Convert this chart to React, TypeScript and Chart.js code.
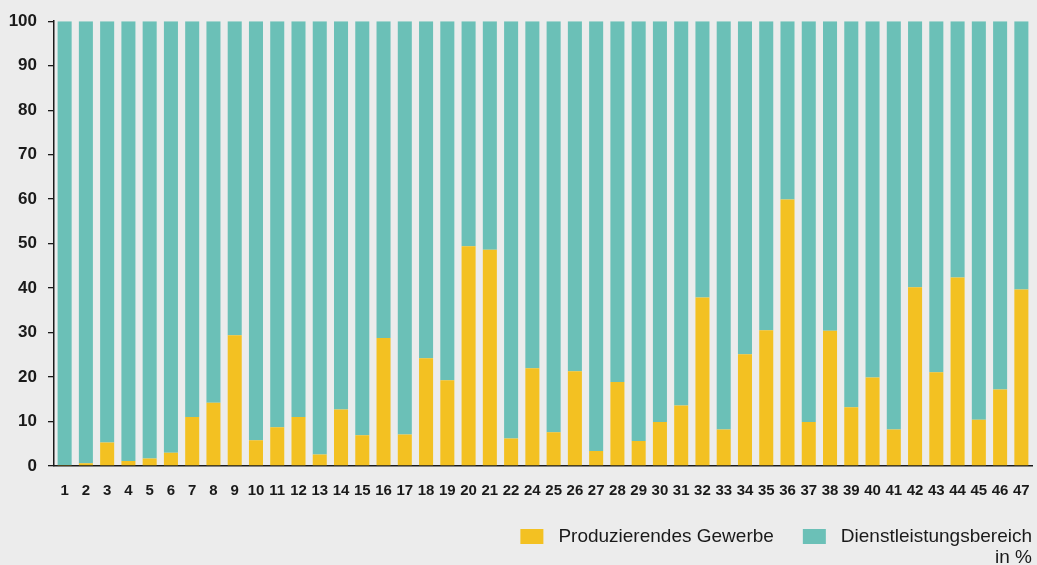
import React, { useEffect, useRef } from "react";
import { Chart, registerables } from "chart.js";

Chart.register(...registerables);

const categories = [
  "1", "2", "3", "4", "5", "6", "7", "8", "9", "10", "11", "12", "13", "14", "15", "16",
  "17", "18", "19", "20", "21", "22", "24", "25", "26", "27", "28", "29", "30", "31", "32",
  "33", "34", "35", "36", "37", "38", "39", "40", "41", "42", "43", "44", "45", "46", "47",
];

const produzierendesGewerbe = [
  0.2, 0.6, 5.3, 1.1, 1.7, 3.0, 11.0, 14.2, 29.4, 5.8, 8.7, 11.0, 2.6, 12.7, 6.9, 28.8,
  7.1, 24.2, 19.3, 49.4, 48.6, 6.2, 22.0, 7.6, 21.3, 3.4, 18.9, 5.6, 9.9, 13.6, 37.9,
  8.2, 25.1, 30.5, 59.9, 9.9, 30.4, 13.2, 19.9, 8.2, 40.2, 21.1, 42.4, 10.4, 17.2, 39.7,
];

const dienstleistungsbereich = [
  99.8, 99.4, 94.7, 98.9, 98.3, 97.0, 89.0, 85.8, 70.6, 94.2, 91.3, 89.0, 97.4, 87.3, 93.1, 71.2,
  92.9, 75.8, 80.7, 50.6, 51.4, 93.8, 78.0, 92.4, 78.7, 96.6, 81.1, 94.4, 90.1, 86.4, 62.1,
  91.8, 74.9, 69.5, 40.1, 90.1, 69.6, 86.8, 80.1, 91.8, 59.8, 78.9, 57.6, 89.6, 82.8, 60.3,
];

const seriesLabels = ["Produzierendes Gewerbe", "Dienstleistungsbereich"];
const seriesColors = ["#f3c122", "#6bc0b7"];
const unitLabel = "in %";

const yMin = 0;
const yMax = 100;
const yStep = 10;

const BG = "#ececec";
const TEXT = "#1a1a1a";
const FONT = "'Liberation Sans', Arial, Helvetica, sans-serif";

const W = 1037;
const H = 565;

const backgroundAndLegend = {
  id: "backgroundAndLegend",
  beforeDraw(chart: any) {
    const ctx = chart.ctx;
    ctx.save();
    ctx.fillStyle = BG;
    ctx.fillRect(0, 0, chart.width, chart.height);
    ctx.restore();
  },
  afterDraw(chart: any) {
    const ctx = chart.ctx;
    ctx.save();
    ctx.font = `19px ${FONT}`;
    ctx.textBaseline = "alphabetic";
    ctx.fillStyle = TEXT;
    const rightEdge = 1032;
    const baseline = 541.5;
    const boxW = 23;
    const boxH = 15;
    const boxTop = 529;
    const boxToText = 15;
    const itemGap = 29;
    let x = rightEdge;
    for (let i = seriesLabels.length - 1; i >= 0; i--) {
      const label = seriesLabels[i];
      const tw = ctx.measureText(label).width;
      const textX = x - tw;
      ctx.fillStyle = TEXT;
      ctx.textAlign = "left";
      ctx.fillText(label, textX, baseline);
      const boxX = textX - boxToText - boxW;
      ctx.fillStyle = seriesColors[i];
      ctx.fillRect(boxX, boxTop, boxW, boxH);
      x = boxX - itemGap;
    }
    ctx.fillStyle = TEXT;
    ctx.textAlign = "right";
    ctx.fillText(unitLabel, rightEdge, 563);
    ctx.restore();
  },
};

export default function App() {
  const canvasRef = useRef<HTMLCanvasElement | null>(null);

  useEffect(() => {
    const canvas = canvasRef.current;
    if (!canvas) return;
    const chart = new Chart(canvas, {
      type: "bar",
      data: {
        labels: categories,
        datasets: [
          {
            label: seriesLabels[0],
            data: produzierendesGewerbe,
            backgroundColor: seriesColors[0],
            borderWidth: 0,
            barPercentage: 0.66,
            categoryPercentage: 1,
          },
          {
            label: seriesLabels[1],
            data: dienstleistungsbereich,
            backgroundColor: seriesColors[1],
            borderWidth: 0,
            barPercentage: 0.66,
            categoryPercentage: 1,
          },
        ],
      },
      options: {
        responsive: false,
        devicePixelRatio: 1,
        animation: false,
        layout: { padding: { top: 20, left: 0, right: 5, bottom: 69 } },
        plugins: {
          legend: { display: false },
          tooltip: { enabled: false },
          title: { display: false },
        },
        scales: {
          x: {
            stacked: true,
            grid: { display: false, drawTicks: false },
            border: { display: true, color: "#1a1a1a", width: 1.5 },
            ticks: {
              autoSkip: false,
              maxRotation: 0,
              minRotation: 0,
              padding: 16,
              color: TEXT,
              font: { family: FONT, size: 15, weight: "bold" },
            },
            afterFit(scale: any) {
              scale.height = 30;
              scale.paddingLeft = 0;
              scale.paddingRight = 0;
            },
          },
          y: {
            stacked: true,
            min: yMin,
            max: yMax,
            grid: {
              display: true,
              drawOnChartArea: false,
              drawTicks: true,
              tickLength: 6,
              color: "#1a1a1a",
              lineWidth: 1.3,
            },
            border: { display: true, color: "#1a1a1a", width: 1.5 },
            ticks: {
              stepSize: yStep,
              padding: 11,
              color: TEXT,
              font: { family: FONT, size: 17, weight: "bold" },
            },
            afterFit(scale: any) {
              scale.width = 54;
            },
          },
        },
      },
      plugins: [backgroundAndLegend],
    });
    return () => chart.destroy();
  }, []);

  return (
    <div
      style={{
        position: "absolute",
        left: 0,
        top: 0,
        width: W,
        height: H,
        background: BG,
      }}
    >
      <canvas ref={canvasRef} width={W} height={H} style={{ display: "block", width: W, height: H }} />
    </div>
  );
}
